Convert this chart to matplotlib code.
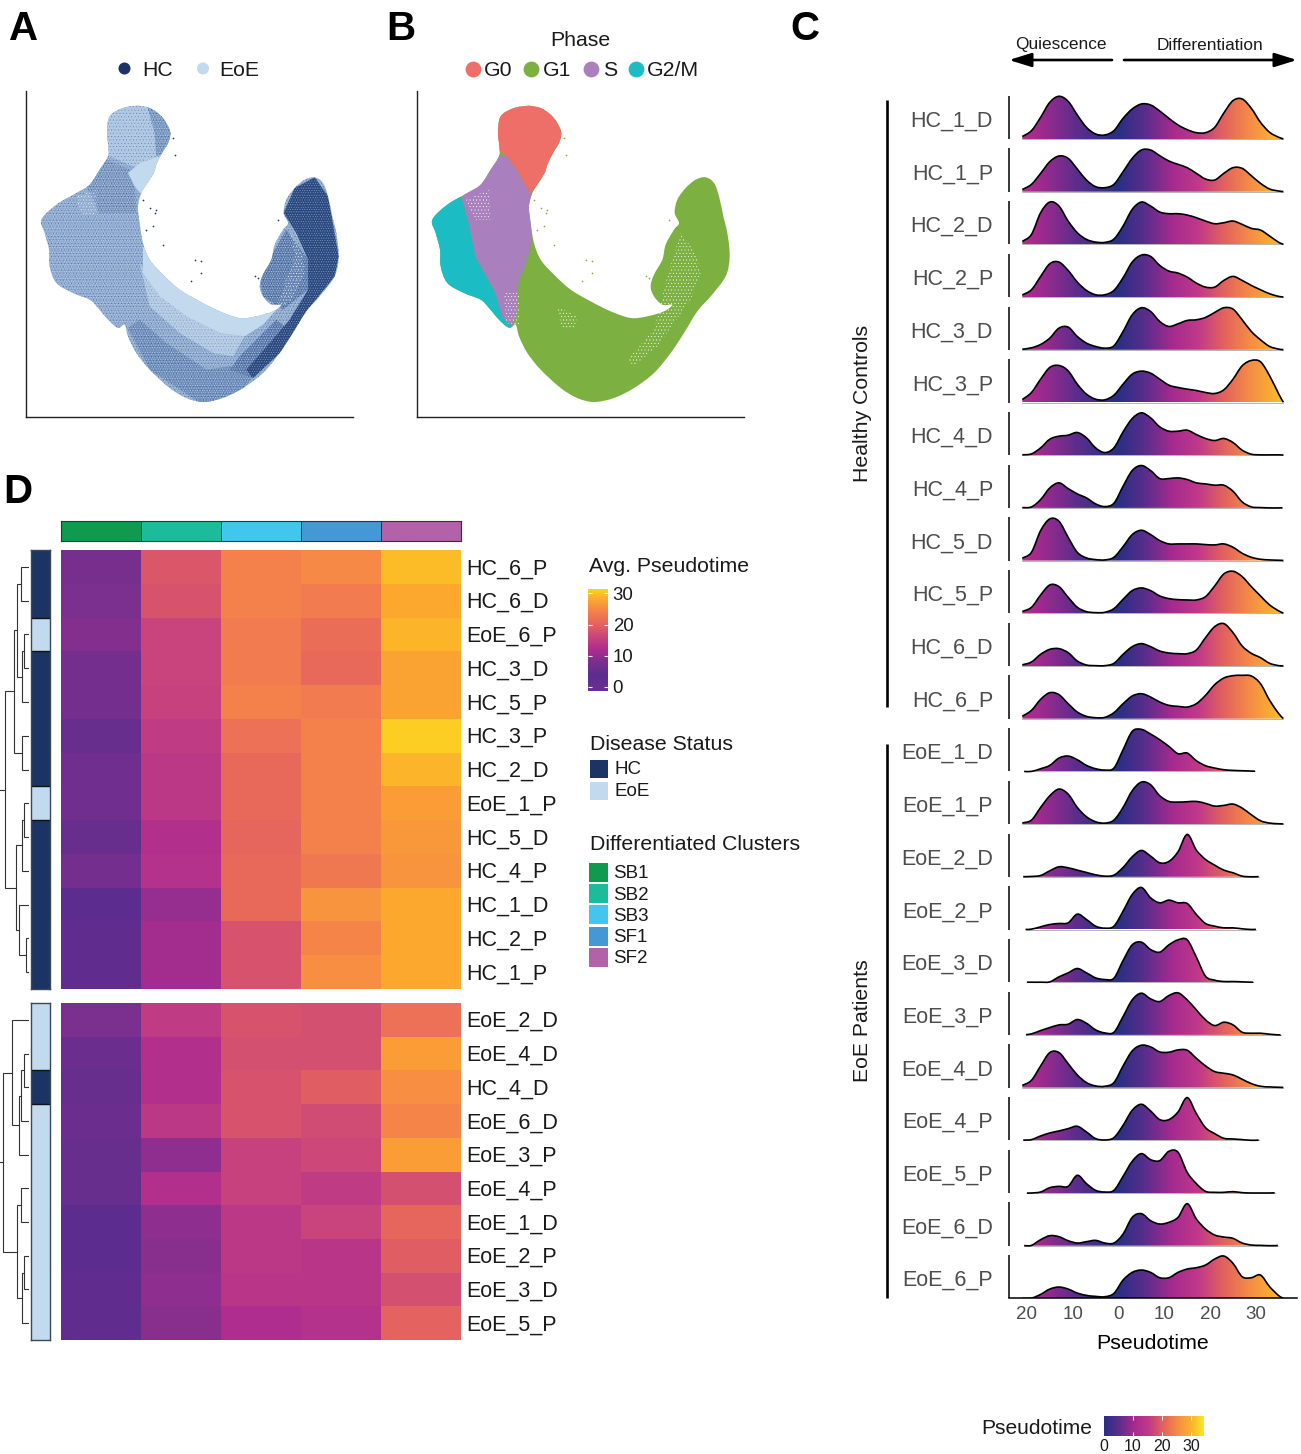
import numpy as np
import matplotlib
matplotlib.use('Agg')
import matplotlib.pyplot as plt
from matplotlib.path import Path
from matplotlib.patches import PathPatch, Rectangle
from matplotlib.colors import LinearSegmentedColormap, ListedColormap

plt.rcParams['font.family'] = ['Liberation Sans', 'DejaVu Sans']
plt.rcParams['hatch.linewidth'] = 0.3

W, H = 1301, 1454

# ---- colours ----
hc_col, eoe_col = '#1c3464', '#c3d9ed'
phase_cols = {'G0': '#ee6f68', 'G1': '#7cb041', 'S': '#a97fbd', 'G2/M': '#1cbcc4'}
cluster_names = ['SB1', 'SB2', 'SB3', 'SF1', 'SF2']
cluster_cols = ['#0f9a4e', '#1cbb9b', '#42c6ee', '#4499d5', '#b262a8']
grey = '#4d4d4d'

# ---- UMAP shape (3x crop coordinates) ----
umap_outline = [(415,318),(450,325),(480,345),(500,370),(512,400),(505,430),(490,455),(472,490),(462,520),
    (440,555),(425,580),(415,620),(420,670),(430,730),(450,780),(490,825),(540,870),(600,905),(660,935),
    (720,955),(770,950),(820,935),(845,915),(815,915),(790,890),(780,860),(790,825),(815,780),(825,735),
    (850,690),(865,670),(852,640),(860,600),(885,565),(915,540),(945,533),(970,550),(985,590),(998,650),
    (1010,700),(1017,770),(1005,830),(960,890),(920,935),(880,1000),(840,1060),(790,1120),(730,1165),
    (670,1195),(610,1207),(560,1195),(510,1165),(450,1110),(410,1060),(385,1010),(375,975),(355,985),
    (325,960),(295,925),(270,900),(220,880),(170,850),(150,800),(148,750),(135,700),(125,660),(170,615),
    (230,580),(270,555),(300,510),(325,470),(326,440),(322,400),(330,350),(370,325)]
stray_points = [(465,640),(470,630),(440,690),(490,735),(585,780),(605,785),(605,820),(525,465),(520,415),
    (835,660),(450,625),(430,600),(460,680),(575,845),(765,830),(775,835)]

# panel A zones
zone_all = [(100,300),(1050,300),(1050,1230),(100,1230)]
zone_head = [(300,300),(530,300),(530,470),(470,490),(400,500),(330,470),(300,470)]
zone_rim = [(440,310),(530,350),(530,450),(470,470),(465,400)]
zone_shoulder = [(260,560),(320,480),(390,510),(405,560),(410,640),(300,640)]
zone_neck = [(385,520),(420,490),(480,470),(470,520),(430,590),(405,560)]
zone_arc = [(430,740),(490,825),(600,905),(720,955),(835,925),(790,975),(735,1010),(660,1000),(560,950),(480,890),(430,820)]
zone_arc2 = [(420,790),(480,890),(560,950),(660,1000),(735,1010),(700,1070),(640,1060),(540,1000),(450,920)]
zone_arm = [(885,565),(945,533),(985,590),(1017,770),(1005,830),(920,935),(840,1060),(760,1135),(740,1110),
    (810,1030),(870,960),(925,870),(925,780),(890,700),(852,640)]
zone_lower = [(760,1135),(840,1060),(880,1000),(830,960),(780,1010),(720,1070),(690,1110)]
zone_belly = [(385,985),(450,1110),(610,1215),(730,1170),(760,1130),(690,1100),(620,1110),(500,1030),(420,960)]
zone_white = [(230,590),(290,570),(290,650),(240,640)]
zone_fold = [(780,830),(860,690),(925,780),(925,870),(850,930),(790,890)]
zone_fold_white = [(870,700),(905,750),(915,820),(880,900),(830,930),(860,840),(885,770)]

# panel B zones, same coordinates
zone_g0 = [(284,300),(544,300),(544,480),(454,545),(432,575),(414,575),(384,520),(354,475),(329,455),(284,450)]
zone_s = [(354,475),(384,520),(414,575),(432,590),(420,660),(424,720),(414,770),(384,850),(379,940),(364,980),
    (334,950),(304,860),(254,770),(234,670),(214,600),(230,540),(290,450)]
zone_g2m = [(84,600),(200,565),(214,600),(234,670),(254,770),(314,880),(334,950),(369,985),(324,975),(284,950),(84,900)]
zone_s_fringe = [(394,770),(440,770),(420,860),(410,950),(370,980),(360,900)]
zone_s_white = [(225,600),(295,570),(300,660),(255,660)]
zone_s_white2 = [(340,880),(385,880),(385,975),(345,970)]
zone_g1_white = [(500,920),(560,950),(550,990),(510,980)]
zone_g1_white2 = [(710,1080),(790,990),(830,830),(870,700),(915,760),(930,820),(900,900),(800,1040),(730,1100)]

# ---- panel C densities, heights read at pseudotime positions ----
ridge_x = [-21,-19,-17,-15,-13,-11,-9,-7,-5,-3,-1,1,3,5,7,9,11,13,15,17,19,21,23,25,27,29,31,33,35,36]
ridge_names = ['HC_1_D','HC_1_P','HC_2_D','HC_2_P','HC_3_D','HC_3_P','HC_4_D','HC_4_P','HC_5_D','HC_5_P','HC_6_D','HC_6_P',
    'EoE_1_D','EoE_1_P','EoE_2_D','EoE_2_P','EoE_3_D','EoE_3_P','EoE_4_D','EoE_4_P','EoE_5_P','EoE_6_D','EoE_6_P']
ridge_start = [-21]*12 + [-20.6,-21,-20.8,-20.3,-20,-20.2,-21,-20.8,-20,-20.6,-21]
ridge_end = [36,36,36,36,36,36,36,35.8,36,36,36,36, 29.8,36,30.6,30,29.4,35.4,36,30.6,34.1,34.8,36]
ridge_h = [
    [8,25,65,110,128,113,72,35,15,12,25,62,90,105,102,84,62,42,28,19,19,35,78,115,120,92,50,20,5,2],
    [6,22,55,90,107,100,68,35,15,12,22,60,100,125,125,108,92,82,72,55,38,35,55,72,70,48,25,8,2,1],
    [6,30,95,127,115,70,35,15,7,6,16,55,105,127,115,97,92,92,88,80,70,62,65,70,60,48,43,25,6,2],
    [4,22,62,100,105,80,45,20,7,7,20,58,105,126,122,95,78,72,60,42,30,30,50,62,50,35,22,10,2,1],
    [1,6,16,35,65,68,40,20,10,5,12,55,105,126,115,85,70,78,88,90,97,112,126,122,90,55,30,10,2,0],
    [10,30,70,105,111,95,55,25,10,8,22,55,85,94,88,70,52,45,40,36,30,27,38,70,110,126,122,80,25,8],
    [0,4,22,48,57,60,68,52,22,8,22,70,110,127,112,85,72,72,75,62,50,44,50,38,15,3,1,1,1,1],
    [0,3,25,60,75,58,42,30,12,4,14,65,112,127,112,88,88,90,85,75,72,68,68,50,18,3,1,0,0,0],
    [3,25,90,125,118,70,25,8,3,2,10,42,78,91,78,60,50,50,50,50,48,47,50,40,22,10,4,2,1,1],
    [3,18,55,85,80,48,18,5,2,3,14,42,68,76,68,52,44,41,40,40,50,82,118,126,110,80,52,25,7,2],
    [2,12,35,50,52,40,15,3,1,1,8,35,58,67,58,45,39,37,37,48,85,118,127,100,60,38,25,8,1,0],
    [6,25,58,78,72,45,20,7,3,4,18,45,68,75,65,50,40,37,35,45,70,102,122,129,130,128,105,55,15,5],
    [0,0,8,18,40,46,35,18,8,4,10,65,120,126,112,95,75,53,55,32,17,10,5,3,2,1,0,0,0,0],
    [2,12,50,85,105,90,50,22,7,3,12,50,100,126,118,85,68,66,67,68,62,54,56,60,48,28,10,3,1,0],
    [0,1,4,18,30,27,20,13,6,2,5,28,60,79,62,42,46,75,127,80,52,35,20,12,2,0,0,0,0,0],
    [0,1,8,15,18,20,46,30,10,4,10,55,105,126,95,80,88,80,78,45,18,10,5,5,2,0,0,0,0,0],
    [0,0,0,1,16,28,41,28,13,8,12,65,112,120,98,90,112,127,127,75,18,6,2,2,1,0,0,0,0,0],
    [0,3,13,22,30,32,46,35,15,6,8,55,105,125,108,100,118,126,105,75,45,28,38,30,8,5,5,2,0,0],
    [2,22,65,105,105,72,38,15,5,4,15,65,110,127,122,107,106,113,112,88,65,48,43,38,25,12,4,2,1,0],
    [0,2,13,22,28,35,42,25,5,1,8,45,90,108,88,62,62,85,128,80,38,20,6,4,2,0,0,0,0,0],
    [0,0,3,16,20,20,53,28,8,3,8,50,95,118,100,97,125,122,62,28,5,2,2,4,1,0,0,0,0,0],
    [0,1,18,30,27,15,8,12,16,8,8,35,85,96,75,65,70,85,126,80,50,32,26,22,8,2,1,0,0,0],
    [0,1,12,28,34,28,16,9,6,5,15,55,78,85,78,62,62,78,88,92,100,118,127,105,65,62,70,35,8,0],
]
# fill colour runs slower than the axis on each side of zero
fill_scale_left, fill_scale_right = 0.57, 0.87

# ---- panel D heatmap ----
hm_top_rows = ['HC_6_P','HC_6_D','EoE_6_P','HC_3_D','HC_5_P','HC_3_P','HC_2_D','EoE_1_P','HC_5_D','HC_4_P','HC_1_D','HC_2_P','HC_1_P']
hm_top = [[7.5,18.5,24,25,29.5],[8,18,24,23.5,28],[8.5,16,23.5,21.5,29],[7,16,23.5,21,27.5],[7,15.5,24,23.5,27.5],
    [5.5,14.5,22,24,31],[6.5,14,21,24,29],[6.5,14,21,24,27],[5.5,12.5,20.5,24,26.5],[7,13,21,23,26],
    [4,10,21,26,28],[4.5,11,18,24.5,28],[4.5,11,18,25.5,28]]
hm_bot_rows = ['EoE_2_D','EoE_4_D','HC_4_D','EoE_6_D','EoE_3_P','EoE_4_P','EoE_1_D','EoE_2_P','EoE_3_D','EoE_5_P']
hm_bot = [[8,14.5,18,17.5,22],[6,12.5,17.5,17.5,27],[5.5,12.5,18,19.5,25.5],[6,14,18,17,24.5],[5.5,9.5,15.5,16.5,27],
    [5.5,12.5,15.5,14.5,17.5],[4,9.5,14,16,20.5],[4,9,14,13.5,19.5],[4.5,9.5,13.5,13.5,17.5],[4.5,9,12,13,20]]

# dendrograms: (merge position, child a, child b); children >= n_leaves refer to earlier merges
dendro_top = [(62,0,1),(72,2,3),(65,14,4),(52,13,15),(65,5,6),(41,16,17),(72,7,8),(67,19,9),(78,11,12),(58,10,21),(47,20,22),(15,18,23)]
dendro_bot = [(72,1,2),(63,10,3),(56,11,4),(37,0,12),(62,5,6),(72,7,8),(66,15,9),(50,14,16),(10,13,17)]

# ---- colour scales ----
ridge_cmap = LinearSegmentedColormap.from_list('ridge', [(0,'#2a2f85'),(5/34,'#5a2d8c'),(10/34,'#a42a8f'),(15/34,'#c0388a'),
    (20/34,'#e2625e'),(25/34,'#f58c45'),(30/34,'#fbb52c'),(1,'#f5ea25')])
hm_lo, hm_hi = -1.3, 31.4
hm_stops = [(-1.3,'#6b2f90'),(4,'#5c2d8e'),(8,'#7c2f8e'),(12,'#ae2d8f'),(16,'#c9447c'),(20,'#e4625f'),(24,'#f47f4d'),(28,'#fca72f'),(31.4,'#fcd321')]
hm_cmap = LinearSegmentedColormap.from_list('hm', [((v-hm_lo)/(hm_hi-hm_lo),c) for v,c in hm_stops])

fig = plt.figure(figsize=(W/100, H/100), dpi=100)

def ax_px(l, t, r, b):
    return fig.add_axes([l/W, 1-b/H, (r-l)/W, (b-t)/H])

def to_uv(pts):
    # crop coordinates to panel data coordinates
    a = np.array(pts, dtype=float)
    return np.column_stack([a[:,0]-79, 1252-a[:,1]])

def smooth_path(x, y):
    # bezier through the read values so the drawn line is not angular
    x, y = np.asarray(x, float), np.asarray(y, float)
    verts, codes = [(x[0], y[0])], [Path.MOVETO]
    for i in range(len(x)-1):
        x0, y0 = (x[i-1], y[i-1]) if i > 0 else (x[i], y[i])
        x3, y3 = (x[i+2], y[i+2]) if i < len(x)-2 else (x[i+1], y[i+1])
        verts += [(x[i]+(x[i+1]-x0)/6, y[i]+(y[i+1]-y0)/6), (x[i+1]-(x3-x[i])/6, y[i+1]-(y3-y[i])/6), (x[i+1], y[i+1])]
        codes += [Path.CURVE4]*3
    return verts, codes

def zone(ax, pts, clip, face='none', hatch=None, hcol=None, z=2):
    p = PathPatch(Path(to_uv(pts)), facecolor=face, edgecolor=hcol if hcol else 'none', hatch=hatch, lw=0, zorder=z)
    ax.add_patch(p)
    p.set_clip_path(clip)

def speckle(ax, pts, clip, face, dark, light, z):
    # average tone of the mixed dots, with dark and light flecks at two hatch pitches
    zone(ax, pts, clip, face=face, z=z)
    zone(ax, pts, clip, hatch='.....', hcol=dark, z=z+0.1)
    zone(ax, pts, clip, hatch='.......', hcol=light, z=z+0.2)

def flecks(ax, pts, clip, z):
    zone(ax, pts, clip, hatch='.....', hcol='white', z=z)

def umap_axes(l):
    ax = ax_px(l, 91, l+327, 417)
    ax.set_xlim(0, 981)
    ax.set_ylim(0, 978)
    ax.set_xticks([])
    ax.set_yticks([])
    ax.spines[['top','right']].set_visible(False)
    for sp in ['left','bottom']:
        ax.spines[sp].set_linewidth(1.0)
        ax.spines[sp].set_color('#222222')
    uv = to_uv(umap_outline + umap_outline[:1])
    v, c = smooth_path(uv[:,0], uv[:,1])
    clip = PathPatch(Path(v, c), facecolor='none', edgecolor='none', transform=ax.transData)
    ax.add_patch(clip)
    return ax, clip

# ---- panel A ----
axA, clipA = umap_axes(26)
speckle(axA, zone_all, clipA, '#90abd0', '#4f6c9e', '#c3d9ed', 1)
speckle(axA, zone_shoulder, clipA, '#7f9bc4', '#3c5a8d', '#c3d9ed', 1.5)
speckle(axA, zone_head, clipA, '#aec6e1', '#5f7dae', '#c3d9ed', 2)
speckle(axA, zone_rim, clipA, '#7e9bc4', '#3c5a8d', '#c3d9ed', 2.5)
zone(axA, zone_neck, clipA, face=eoe_col, z=3)
speckle(axA, zone_belly, clipA, '#7290bd', '#3c5a8d', '#c3d9ed', 3.2)
speckle(axA, zone_arc2, clipA, '#b0c8e2', '#7f9bc4', '#d3e3f2', 3.5)
zone(axA, zone_arc, clipA, face=eoe_col, z=4)
speckle(axA, zone_fold, clipA, '#6280b0', '#2f4c82', '#c3d9ed', 4.1)
flecks(axA, zone_fold_white, clipA, 4.4)
speckle(axA, zone_lower, clipA, '#5f7dae', '#2f4c82', '#c3d9ed', 4.5)
speckle(axA, zone_arm, clipA, '#2f4c82', hc_col, '#8ea9cf', 4.8)
flecks(axA, zone_white, clipA, 5.2)
s = to_uv(stray_points)
axA.scatter(s[:,0], s[:,1], s=1.5, color=hc_col, lw=0, zorder=6)

# ---- panel B ----
axB, clipB = umap_axes(417)
zone(axB, zone_all, clipB, face=phase_cols['G1'], z=1)
zone(axB, zone_g0, clipB, face=phase_cols['G0'], z=2)
zone(axB, zone_s, clipB, face=phase_cols['S'], z=2)
zone(axB, zone_g2m, clipB, face=phase_cols['G2/M'], z=2)
zone(axB, zone_s_fringe, clipB, hatch='.....', hcol=phase_cols['G1'], z=3)
flecks(axB, zone_s_white, clipB, 3)
flecks(axB, zone_s_white2, clipB, 3)
flecks(axB, zone_g1_white, clipB, 3)
flecks(axB, zone_g1_white2, clipB, 3)
axB.scatter(s[:,0], s[:,1], s=1.5, color=phase_cols['G1'], lw=0, zorder=6)

# ---- panel C ridges ----
row_px, base_px, unit_h = 52.7, 1298.4, 158.0
axC = ax_px(1009, 90, 1297, base_px)
n_rows = len(ridge_names)

grad_x = np.linspace(-21, 36, 500)
grad_v = np.where(grad_x < 0, -grad_x*fill_scale_left, grad_x*fill_scale_right)
for i, (heights, x0, x1) in enumerate(zip(ridge_h, ridge_start, ridge_end)):
    base = n_rows-1-i
    xs = np.array(ridge_x, float)
    hs = np.array(heights, float)
    keep = (xs > x0) & (xs < x1)
    xs = np.r_[x0, xs[keep], x1]
    hs = np.r_[hs[keep][0]*0.3, hs[keep], 0.5]
    ys = base + hs/unit_h
    v, c = smooth_path(xs, ys)
    fill = PathPatch(Path(v+[(x1,base),(x0,base),(x0,ys[0])], c+[Path.LINETO]*3), facecolor='none', edgecolor='none')
    axC.add_patch(fill)
    im = axC.imshow(grad_v[None,:], extent=(-21,36,base,base+0.9), aspect='auto', cmap=ridge_cmap,
                    vmin=0, vmax=34, zorder=2+i*0.01, interpolation='bilinear')
    im.set_clip_path(fill)
    axC.add_patch(PathPatch(Path(v, c), facecolor='none', edgecolor='black', lw=1.2, zorder=3+i*0.01))
    axC.plot([x0, x1], [base, base], color='#999999', lw=0.5, zorder=1)
    axC.plot([-23.9,-23.9], [base, base+0.82], color='black', lw=1.1, zorder=5, clip_on=False, solid_capstyle='butt')

axC.set_xlim((1009-1118.5)/4.58, (1297-1118.5)/4.58)
axC.set_ylim(0, (base_px-90)/row_px)
axC.spines[['top','right','left']].set_visible(False)
axC.spines['bottom'].set_linewidth(1.1)
axC.spines['bottom'].set_color('black')
pseudo_ticks = [-20,-10,0,10,20,30]
axC.set_xticks(pseudo_ticks)
axC.set_xticklabels([str(abs(t)) for t in pseudo_ticks], fontsize=13.5, color=grey)
axC.tick_params(axis='x', length=0, pad=5.8)
axC.set_yticks([n_rows-1-i+0.385 for i in range(n_rows)])
axC.set_yticklabels(ridge_names, fontsize=15.5, color=grey)
axC.tick_params(axis='y', length=0, pad=11.5)
axC.set_xlabel('Pseudotime', fontsize=15.4, labelpad=7.6)

# ---- panel D heatmap ----
def status_bar(ax, rows):
    vals = [[0 if r.startswith('HC') else 1] for r in rows]
    ax.pcolormesh(vals, cmap=ListedColormap([hc_col, eoe_col]), vmin=0, vmax=1)
    ax.set_ylim(len(rows), 0)
    ax.set_xticks([])
    ax.set_yticks([])
    for k in range(1, len(rows)):
        if vals[k] != vals[k-1]:
            ax.axhline(k, color='#111111', lw=1.0)
    for sp in ax.spines.values():
        sp.set_color('#3a4a55')
        sp.set_linewidth(1.0)

def dendro(ax, links, n_leaves):
    ypos = {k: k+0.5 for k in range(n_leaves)}
    xpos = {k: 29.0*3 for k in range(n_leaves)}
    for j, (h, a, b) in enumerate(links):
        ax.plot([xpos[a], h, h, xpos[b]], [ypos[a], ypos[a], ypos[b], ypos[b]], color='#333333', lw=0.8, solid_joinstyle='miter')
        ypos[n_leaves+j] = (ypos[a]+ypos[b])/2
        xpos[n_leaves+j] = h
    ax.plot([0, links[-1][0]], [ypos[n_leaves+len(links)-1]]*2, color='#333333', lw=0.8)
    ax.set_xlim(0, 87)
    ax.set_ylim(n_leaves, 0)
    ax.axis('off')

blocks = [(hm_top, hm_top_rows, dendro_top, 550, 989), (hm_bot, hm_bot_rows, dendro_bot, 1003, 1340)]
for vals, rows, links, top, bottom in blocks:
    ax = ax_px(60.5, top, 461.5, bottom)
    ax.pcolormesh(np.array(vals), cmap=hm_cmap, vmin=hm_lo, vmax=hm_hi)
    ax.set_ylim(len(rows), 0)
    ax.set_xticks([])
    ax.yaxis.tick_right()
    ax.set_yticks(np.arange(len(rows))+0.48)
    ax.set_yticklabels(rows, fontsize=15.5, color='#1a1a1a')
    ax.tick_params(axis='y', length=0, pad=3.5)
    ax.spines[:].set_visible(False)
    status_bar(ax_px(30.5, top, 50.5, bottom), rows)
    dendro(ax_px(0, top, 29, bottom), links, len(rows))

axT = ax_px(60.5, 521, 461.5, 541)
axT.pcolormesh([[0,1,2,3,4]], cmap=ListedColormap(cluster_cols), vmin=0, vmax=4, edgecolors='#1f3d36', linewidth=0.6)
axT.set_xticks([])
axT.set_yticks([])
for sp in axT.spines.values():
    sp.set_color('#1f3d36')
    sp.set_linewidth(0.8)

# colour bars
axL = ax_px(588, 589, 608, 691)
axL.imshow(np.linspace(hm_hi, hm_lo, 256)[:,None], cmap=hm_cmap, aspect='auto', extent=(0,1,hm_lo,hm_hi), vmin=hm_lo, vmax=hm_hi)
axL.set_xticks([])
axL.yaxis.tick_right()
hm_ticks = [0,10,20,30]
axL.set_yticks(hm_ticks)
axL.set_yticklabels([str(t) for t in hm_ticks], fontsize=13.4, color='#1a1a1a')
axL.tick_params(axis='y', length=0, pad=3.4)
axL.hlines(hm_ticks, 0, 0.2, color='white', lw=0.8)
axL.hlines(hm_ticks, 0.8, 1, color='white', lw=0.8)
axL.spines[:].set_visible(False)

axP = ax_px(1103.5, 1416, 1203.5, 1436)
axP.imshow(np.linspace(0, 34.1, 256)[None,:], cmap=ridge_cmap, aspect='auto', extent=(0,34.1,0,1), vmin=0, vmax=34.1)
axP.set_yticks([])
axP.set_xticks(hm_ticks)
axP.set_xticklabels([str(t) for t in hm_ticks], fontsize=11.4, color='#1a1a1a')
axP.tick_params(axis='x', length=0, pad=2)
axP.vlines(hm_ticks[1:], 0, 0.2, color='white', lw=0.8)
axP.vlines(hm_ticks[1:], 0.8, 1, color='white', lw=0.8)
axP.spines[:].set_visible(False)

# ---- annotation layer in pixel coordinates ----
ov = fig.add_axes([0, 0, 1, 1], zorder=20)
ov.set_xlim(0, W)
ov.set_ylim(H, 0)
ov.axis('off')
ov.patch.set_alpha(0)

for letter, x, y in [('A',9,29), ('B',386,29), ('C',790,29), ('D',3,492)]:
    ov.text(x, y, letter, fontsize=29, fontweight='bold', va='center', ha='left', color='black')

ov.scatter([124.5, 203], [68.5, 68.5], s=75, color=[hc_col, eoe_col], lw=0)
ov.text(142, 71, 'HC', fontsize=15.3, va='center', color='#1a1a1a')
ov.text(219, 71, 'EoE', fontsize=15.3, va='center', color='#1a1a1a')

ov.text(580, 41, 'Phase', fontsize=15.3, ha='center', va='center', color='#1a1a1a')
for name, cx, tx in [('G0',473,484), ('G1',531,543), ('S',591,603), ('G2/M',636,647)]:
    ov.scatter([cx], [68.5], s=130, color=phase_cols[name], lw=0)
    ov.text(tx, 71, name, fontsize=15.3, va='center', color='#1a1a1a')

ov.text(1060.5, 45, 'Quiescence', fontsize=12.4, ha='center', va='center', color='#1a1a1a')
ov.text(1210.5, 45, 'Differentiation', fontsize=12.4, ha='center', va='center', color='#1a1a1a')
arrow = dict(arrowstyle='-|>,head_length=1.35,head_width=0.42', color='black', lw=1.9, shrinkA=0, shrinkB=0)
ov.annotate('', xy=(1009, 60), xytext=(1112, 60), arrowprops=arrow)
ov.annotate('', xy=(1297, 60), xytext=(1124, 60), arrowprops=arrow)

ov.plot([887, 887], [100, 707], color='black', lw=1.9, solid_capstyle='butt')
ov.plot([887, 887], [744, 1298], color='black', lw=1.9, solid_capstyle='butt')
ov.text(863, 403, 'Healthy Controls', fontsize=15.3, rotation=90, ha='center', va='center', color='#1a1a1a')
ov.text(863, 1021, 'EoE Patients', fontsize=15.3, rotation=90, ha='center', va='center', color='#1a1a1a')

ov.text(1092.5, 1429, 'Pseudotime', fontsize=15.1, ha='right', va='center', color='#1a1a1a')

ov.text(589, 566.5, 'Avg. Pseudotime', fontsize=15.3, va='center', color='#1a1a1a')
ov.text(590, 744.5, 'Disease Status', fontsize=15.3, va='center', color='#1a1a1a')
for name, col, y in [('HC',hc_col,760), ('EoE',eoe_col,782)]:
    ov.add_patch(Rectangle((590, y), 18, 18, color=col, lw=0))
    ov.text(614, y+10, name, fontsize=13.5, va='center', color='#1a1a1a')
ov.text(590, 844.5, 'Differentiated Clusters', fontsize=15.3, va='center', color='#1a1a1a')
for k, (name, col) in enumerate(zip(cluster_names, cluster_cols)):
    y = 863 + k*21.2
    ov.add_patch(Rectangle((589, y), 19, 19, color=col, lw=0))
    ov.text(613.5, y+11, name, fontsize=13.5, va='center', color='#1a1a1a')

fig.savefig('out.png', dpi=100)
